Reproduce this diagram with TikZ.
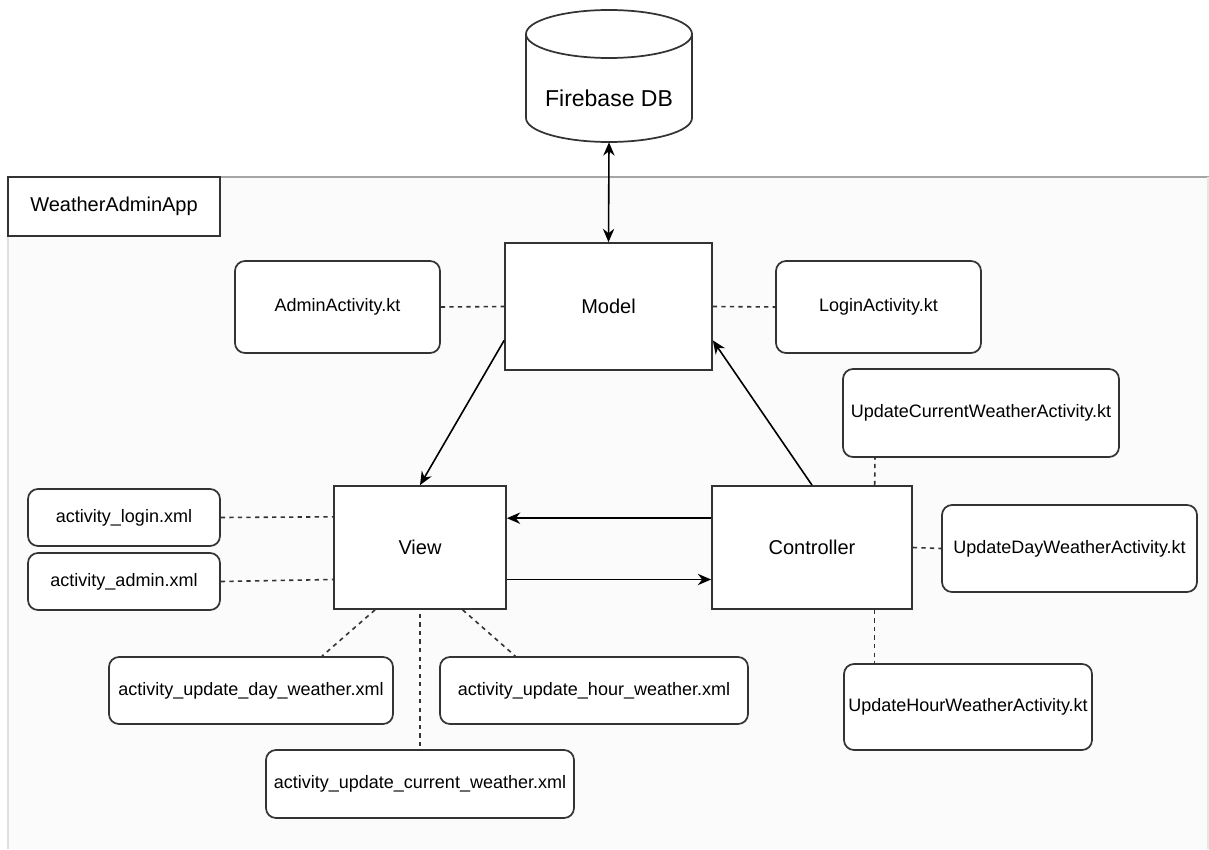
\documentclass[tikz,border=0pt]{standalone}
\usepackage{fontspec}
\setmainfont{Liberation Sans}
\usetikzlibrary{positioning}
\usetikzlibrary{arrows.meta}
\definecolor{frame}{HTML}{333333}
\definecolor{appbg}{HTML}{FBFBFB}

\tikzset{
  sz/.style 2 args={minimum width=#1*0.75pt, minimum height=#2*0.75pt},
  layer/.style={draw=frame, line width=1.3pt, fill=white, inner sep=0pt,
    font=\fontsize{15}{18}\selectfont},
  file/.style={draw=frame, line width=1.3pt, fill=white, rounded corners=7.5pt,
    inner sep=0pt, font=\fontsize{13.5}{16}\selectfont},
  arr/.style={-{Stealth[length=10pt,width=8.5pt]}, line width=1.2pt, black},
  link/.style={dash pattern=on 3.2pt off 3.2pt, line width=1.2pt, frame}
}

\begin{document}
\begin{tikzpicture}[x=0.75pt, y=-0.75pt]
\useasboundingbox (0,0) rectangle (1209,849);

%app frame
\fill[appbg] (8,177) rectangle (1208,849);
\draw[gray!70, line width=0.9pt] (8,177) -- (1209,177);
\draw[gray!25, line width=0.9pt] (8,177) -- (8,849);
\draw[gray!20, line width=0.9pt] (1208,177) -- (1208,849);
\node[layer, sz={212}{59}] (app) at (114,206.5) {WeatherAdminApp};

%database
\draw[frame, line width=1.3pt, fill=white] (526,34) -- (526,118)
  arc[start angle=180, end angle=360, x radius=62.25pt, y radius=18pt] -- (692,34);
\draw[frame, line width=1.3pt, fill=white] (609,34) ellipse[x radius=62.25pt, y radius=18pt];
\node[inner sep=0pt, sz={166}{134}] (db) at (609,75) {};
\node at (609,98) [font=\fontsize{17.25}{20}\selectfont] {Firebase DB};

%layers
\node[layer, sz={207}{127}] (model) at (608.5,306.5) {Model};
\node[layer, sz={172}{123}] (view) at (420,547.5) {View};
\node[layer, sz={200}{123}] (ctrl) at (812,547.5) {Controller};

%files
\node[file, sz={205}{92}] (admin) at (337.5,307) {AdminActivity.kt};
\node[file, sz={205}{92}] (login) at (878.5,307) {LoginActivity.kt};
\node[file, sz={276}{88}] (ucur) at (981,413) {UpdateCurrentWeatherActivity.kt};
\node[file, sz={255}{87}] (uday) at (1069.5,548.5) {UpdateDayWeatherActivity.kt};
\node[file, sz={248}{86}] (uhour) at (968,707) {UpdateHourWeatherActivity.kt};
\node[file, sz={192}{57}] (xlogin) at (124,517.5) {activity\_login.xml};
\node[file, sz={192}{57}] (xadmin) at (124,581.5) {activity\_admin.xml};
\node[file, sz={284}{67}] (xday) at (251,690.5) {activity\_update\_day\_weather.xml};
\node[file, sz={308}{67}] (xhour) at (594,690.5) {activity\_update\_hour\_weather.xml};
\node[file, sz={308}{68}] (xcur) at (420,784) {activity\_update\_current\_weather.xml};

%arrows
\draw[{Stealth[length=10pt,width=8.5pt]}-{Stealth[length=10pt,width=8.5pt]}, line width=1.2pt] (db.south) -- (model.north);
\draw[arr] (model.198) -- (view.north);
\draw[arr] (ctrl.north) -- (model.-18);
\draw[arr] ([yshift=22pt]ctrl.west) -- ([yshift=22pt]view.east);
\draw[arr] ([yshift=-24pt]view.east) -- ([yshift=-24pt]ctrl.west);

%dashed links
\draw[link] (admin.east) -- (model.west);
\draw[link] (model.east) -- (login.west);
\draw[link] (xlogin.east) -- ([yshift=23pt]view.west);
\draw[link] (xadmin.east) -- ([yshift=-24pt]view.west);
\draw[link] ([xshift=-33.75pt]view.south) -- ([xshift=53.25pt]xday.north);
\draw[link] ([yshift=-3pt]view.south) -- (xcur.north);
\draw[link] ([xshift=32pt]view.south) -- ([xshift=-59pt]xhour.north);
\draw[link] ([xshift=47pt]ctrl.north) -- ([xshift=-79.5pt]ucur.south);
\draw[link] (ctrl.east) -- (uday.west);
\draw[link] ([xshift=47pt]ctrl.south) -- ([xshift=-70pt]uhour.north);

\end{tikzpicture}
\end{document}
